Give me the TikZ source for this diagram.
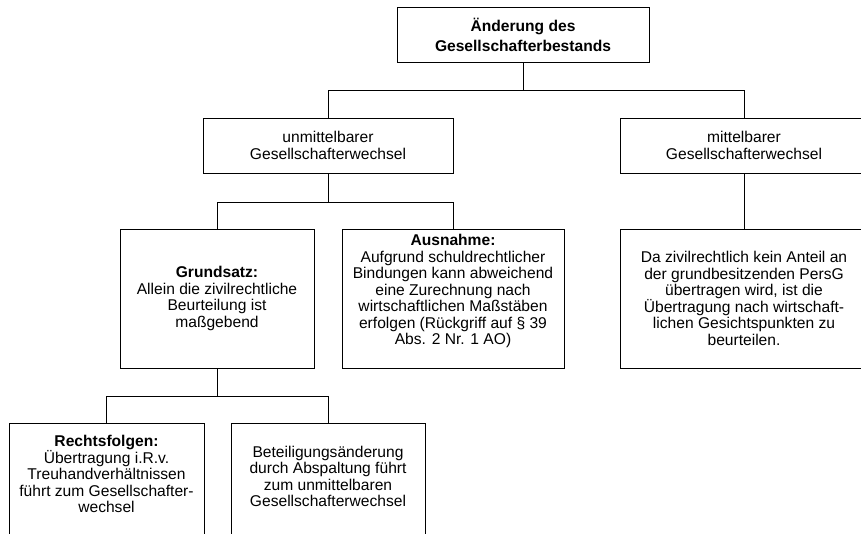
\documentclass[tikz,border=0pt]{standalone}
\usepackage{fontspec}
\setmainfont{Liberation Sans}

\begin{document}
\begin{tikzpicture}[
    x=1pt, y=-1pt,
    every node/.style={font=\fontsize{15.6}{16.5}\selectfont},
    box/.style={draw, line width=1pt, align=center, inner sep=0pt, minimum height=55pt},
    tallbox/.style={box, minimum height=139pt},
    shell/.style={draw, line width=1pt, inner sep=0pt, minimum height=140pt, anchor=north},
    txt/.style={align=center, inner sep=0pt},
    conn/.style={line width=1pt}
]
\clip (0,0) rectangle (861,533);
\node[box, minimum width=252pt] (change) at (523,34.5) {\textbf{Änderung des}\\[3.5pt]\textbf{Gesellschafterbestands}};
\node[box, minimum width=250pt] (direct) at (328,145.5) {unmittelbarer\\Gesellschafterwechsel};
\node[box, minimum width=248pt] (indirect) at (744,145.5) {mittelbarer\\Gesellschafterwechsel};
\node[tallbox, minimum width=194pt] (rule) at (217,298.5) {\textbf{Grundsatz:}\\Allein die zivilrechtliche\\Beurteilung ist\\maßgebend};
\node[shell, minimum width=222pt, minimum height=139pt] (exceptshell) at (453,229) {};
\node[txt] (except) at (453,291) {\textbf{Ausnahme:}\\Aufgrund schuldrechtlicher\\Bindungen kann abweichend\\eine Zurechnung nach\\wirtschaftlichen Maßstäben\\erfolgen (Rückgriff auf § 39\\Abs. 2 Nr. 1 AO)};
\node[tallbox, minimum width=248pt] (assess) at (744,298.5) {Da zivilrechtlich kein Anteil an\\der grundbesitzenden PersG\\übertragen wird, ist die\\Übertragung nach wirtschaft-\\lichen Gesichtspunkten zu\\beurteilen.};
\node[shell, minimum width=195pt] (trustshell) at (106.5,423) {};
\node[txt] (trust) at (106.5,474) {\textbf{Rechtsfolgen:}\\Übertragung i.R.v.\\Treuhandverhältnissen\\führt zum Gesellschafter-\\wechsel};
\node[shell, minimum width=194pt] (splitshell) at (328,423) {};
\node[txt] (split) at (328,476.5) {Beteiligungsänderung\\durch Abspaltung führt\\zum unmittelbaren\\Gesellschafterwechsel};
\draw[conn] (change.south) -- ++(0,28) -| (direct.north);
\draw[conn] (change.south) -- ++(0,28) -| (indirect.north);
\draw[conn] (direct.south) -- ++(0,29) -| (rule.north);
\draw[conn] (direct.south) -- ++(0,29) -| (exceptshell.north);
\draw[conn] (indirect.south) -- (assess.north);
\draw[conn] (rule.south) -- ++(0,28) -| (trustshell.north);
\draw[conn] (rule.south) -- ++(0,28) -| (splitshell.north);
\end{tikzpicture}
\end{document}
